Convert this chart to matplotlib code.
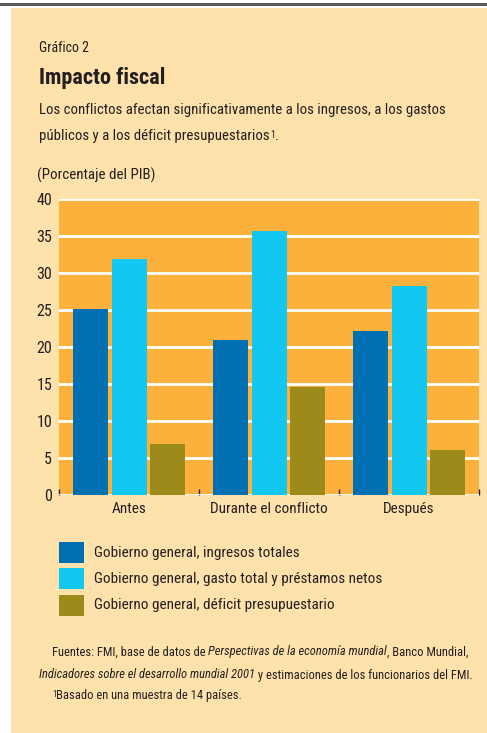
import numpy as np
import matplotlib.pyplot as plt
from matplotlib.patches import Rectangle
from matplotlib import font_manager

names = {f.name for f in font_manager.fontManager.ttflist}
FONTS = [f for f in ['Liberation Sans Narrow', 'Roboto Condensed', 'Liberation Sans', 'DejaVu Sans'] if f in names]
plt.rcParams['font.family'] = FONTS

periods = ['Antes', 'Durante el conflicto', 'Después']
series = ['Gobierno general, ingresos totales',
          'Gobierno general, gasto total y préstamos netos',
          'Gobierno general, déficit presupuestario']
ingresos = [25.2, 20.9, 22.2]
gasto = [31.9, 35.7, 28.2]
deficit = [6.9, 14.6, 6.1]
yticks = [0, 5, 10, 15, 20, 25, 30, 35, 40]

colors = ['#0070B2', '#12C8F0', '#9C8A1A']
cream = '#FFE1AC'
orange = '#FBB13C'
ink = '#231F20'

W, H = 487, 733
fig = plt.figure(figsize=(W / 100, H / 100), dpi=100)

# background layer in pixel coordinates
bg = fig.add_axes([0, 0, 1, 1])
bg.set_xlim(0, W)
bg.set_ylim(H, 0)
bg.axis('off')
bg.add_patch(Rectangle((11, 8), W - 11, H - 8, color=cream, lw=0))
bg.add_patch(Rectangle((0, 2.5), W, 3.5, color='#5A5A5A', lw=0))

bg.text(39, 48, 'Gráfico 2', fontsize=10, color=ink, va='center')
bg.text(39, 78, 'Impacto fiscal', fontsize=16, fontweight='bold', color=ink, va='center')
bg.text(39, 110, 'Los conflictos afectan significativamente a los ingresos, a los gastos',
        fontsize=10.7, color=ink, va='center')
t = bg.text(39, 136, 'públicos y a los déficit presupuestarios', fontsize=10.7, color=ink, va='center')
bg.annotate('1', xy=(1, 1), xycoords=t, xytext=(0.3, -1), textcoords='offset points',
            fontsize=7, color=ink, va='top', ha='left')
bg.annotate('.', xy=(1, 0), xycoords=t, xytext=(4.2, 0), textcoords='offset points',
            fontsize=10.7, color=ink, va='bottom', ha='left')
bg.text(37, 175, '(Porcentaje del PIB)', fontsize=10.8, color=ink, va='center')

# main chart
ax = fig.add_axes([59 / W, 1 - 495 / H, 420 / W, 296 / H])
ax.set_facecolor(orange)
x = np.arange(len(periods))
step, width = 0.274, 0.25
for i, (vals, c) in enumerate(zip([ingresos, gasto, deficit], colors)):
    ax.bar(x + (i - 1) * step, vals, width, color=c, zorder=3)
ax.set_xlim(-0.5, 2.5)
ax.set_ylim(0, 40)
ax.set_yticks(yticks)
ax.set_yticklabels([str(v) for v in yticks], fontsize=11.5, color=ink)
ax.set_xticks(x)
ax.set_xticklabels(periods, fontsize=11, color=ink)
ax.set_xticks([-0.5, 0.5, 1.5, 2.5], minor=True)
ax.tick_params(axis='both', which='major', length=0, pad=5)
ax.tick_params(axis='x', which='minor', direction='in', length=4, width=1, color=ink)
ax.grid(axis='y', color='white', lw=2, zorder=1)
for s in ax.spines.values():
    s.set_visible(False)

# legend
for k, (name, c) in enumerate(zip(series, colors)):
    y0 = 542 + k * 26.3
    bg.add_patch(Rectangle((59, y0), 25, 21, color=c, lw=0))
    bg.text(94, y0 + 10.5, name, fontsize=11, color=ink, va='center')

# sources
fs = 9.0
t = bg.text(52, 652, 'Fuentes: FMI, base de datos de ', fontsize=fs, color=ink, va='center')
t = bg.annotate('Perspectivas de la economía mundial', xy=(1, 0), xycoords=t,
                fontsize=fs, style='italic', color=ink, va='bottom')
bg.annotate(', Banco Mundial,', xy=(1, 0), xycoords=t, fontsize=fs, color=ink, va='bottom')
t = bg.text(39, 675, 'Indicadores sobre el desarrollo mundial 2001', fontsize=fs, style='italic',
            color=ink, va='center')
bg.annotate(' y estimaciones de los funcionarios del FMI.', xy=(1, 0), xycoords=t,
            fontsize=fs, color=ink, va='bottom')
t = bg.text(52, 699, '1', fontsize=6.5, color=ink, va='bottom')
bg.annotate('Basado en una muestra de 14 países.', xy=(1, 1), xycoords=t, xytext=(0, -9),
            textcoords='offset points', fontsize=fs, color=ink, va='bottom')

fig.savefig('out.png', dpi=100)
